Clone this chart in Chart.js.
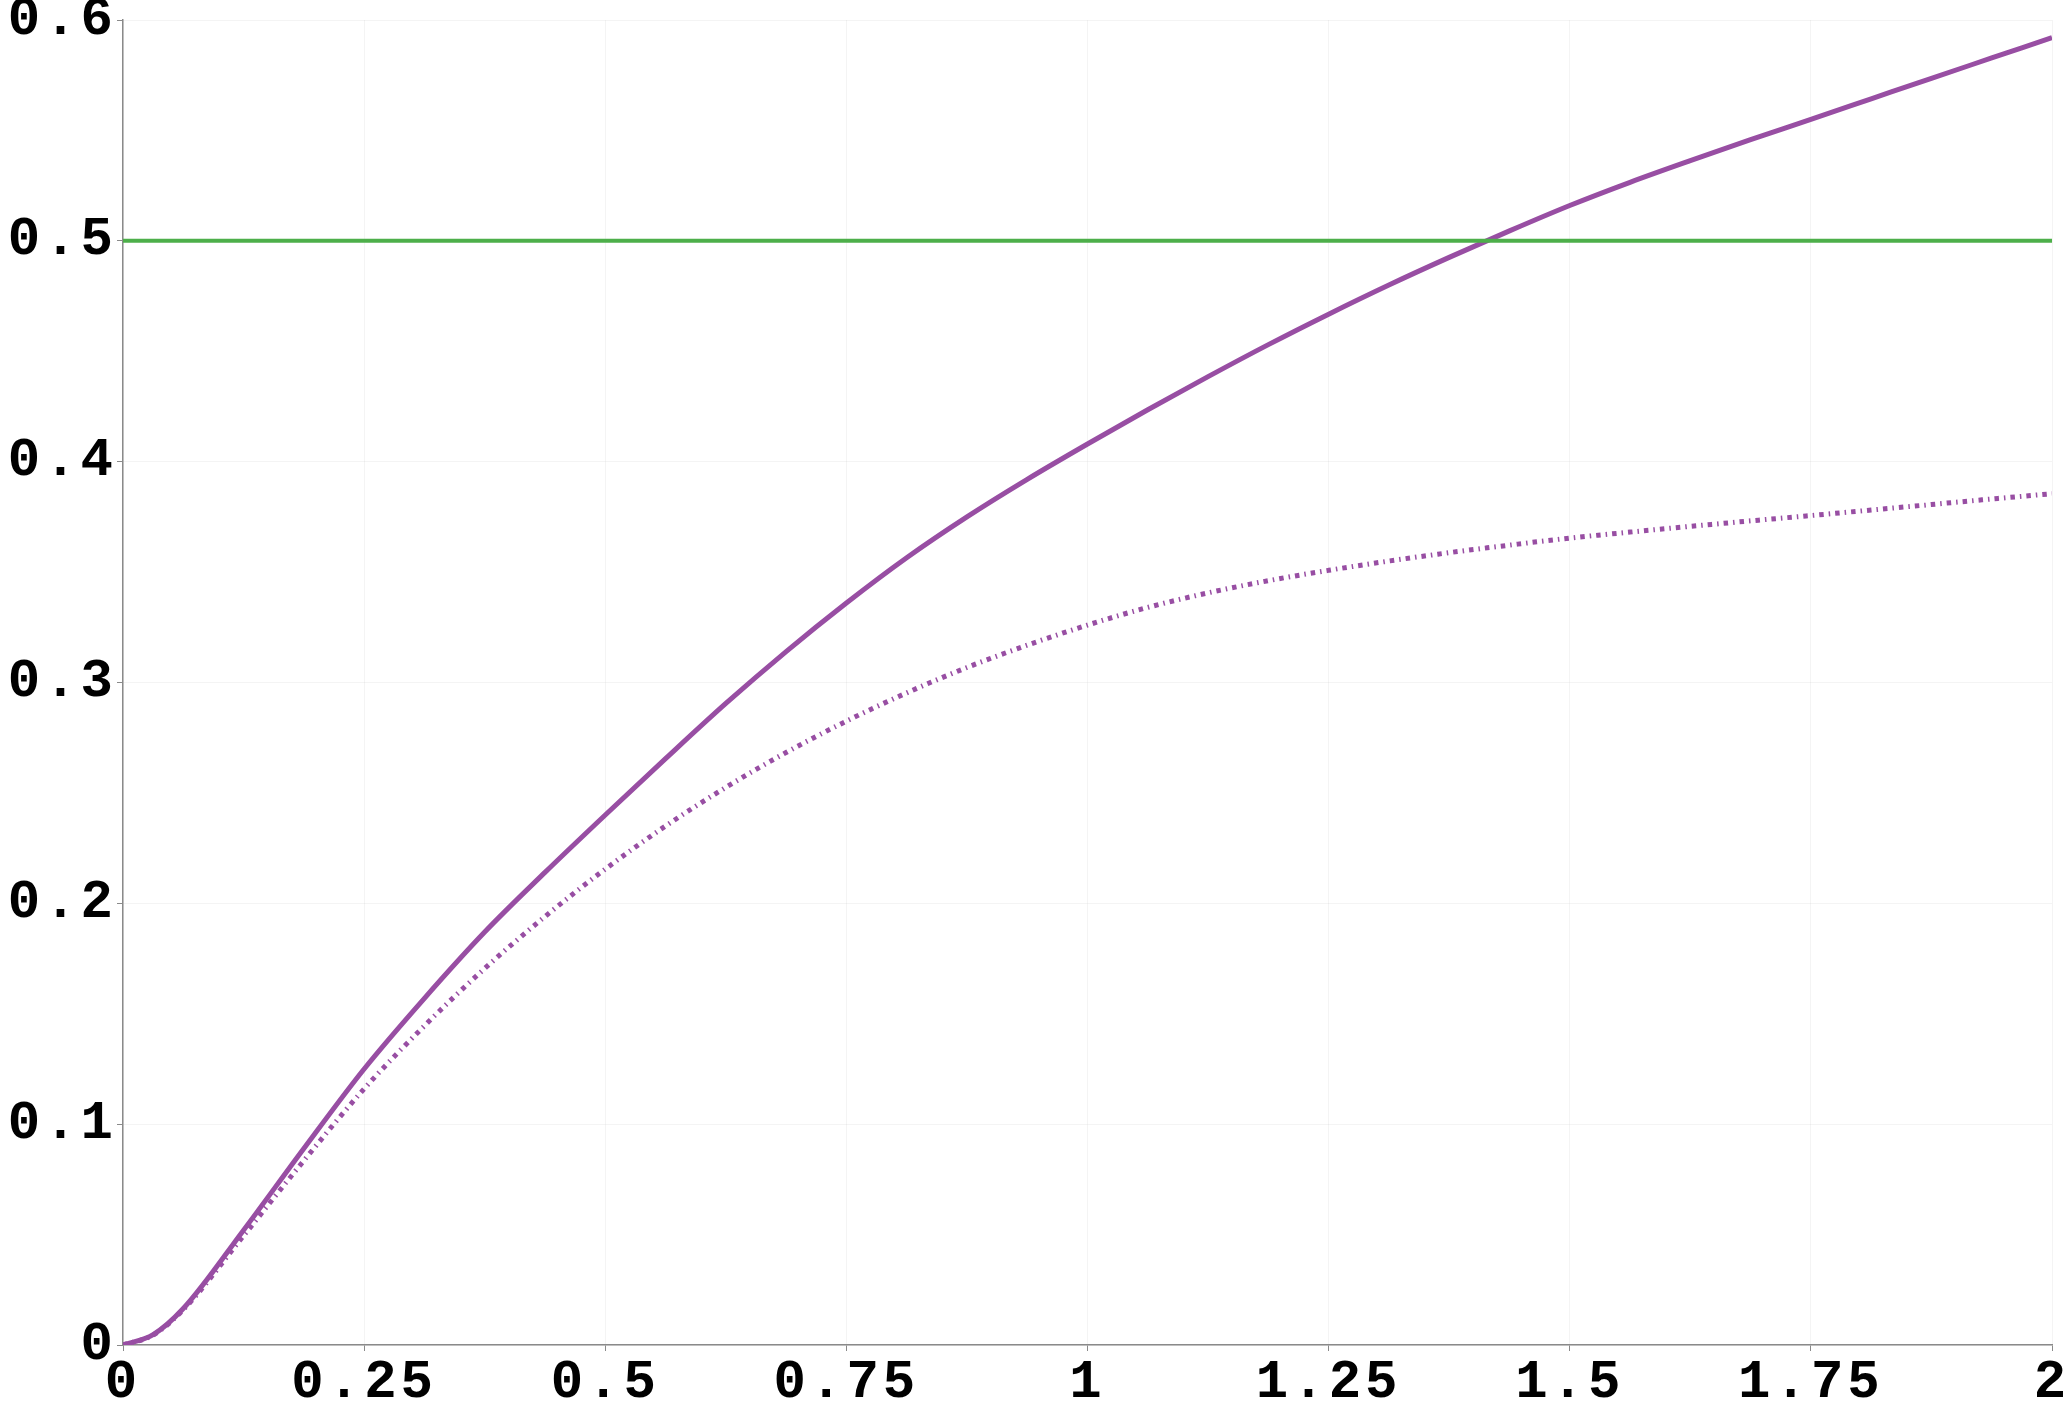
<!DOCTYPE html>
<html>
<head>
<meta charset="utf-8">
<script src="https://cdn.jsdelivr.net/npm/chart.js@4/dist/chart.umd.min.js"></script>
<style>
    html, body { margin: 0; padding: 0; background: #fff; }
    canvas { display: block; }
</style>
</head>
<body>
<canvas id="chart" width="2072" height="1422"></canvas>
<script>
// values
const xValues = [0, 0.03125, 0.0625, 0.125, 0.1875, 0.25, 0.3125, 0.375, 0.4375, 0.5,
    0.5625, 0.625, 0.6875, 0.75, 0.8125, 0.875, 0.9375, 1, 1.0625, 1.125, 1.1875, 1.25,
    1.3125, 1.375, 1.4375, 1.5, 1.5625, 1.625, 1.6875, 1.75, 1.8125, 1.875, 1.9375, 2];
const solidValues = [0, 0.0047, 0.0165, 0.052, 0.089, 0.125, 0.157, 0.187, 0.214, 0.240,
    0.2655, 0.2905, 0.314, 0.336, 0.3565, 0.375, 0.392, 0.408, 0.4235, 0.4385, 0.453, 0.4668,
    0.480, 0.4925, 0.5045, 0.516, 0.5265, 0.5363, 0.5458, 0.555, 0.5643, 0.5736, 0.5828, 0.592];
const dottedValues = [0, 0.0045, 0.016, 0.0495, 0.0835, 0.116, 0.1445, 0.1705, 0.194, 0.2155,
    0.235, 0.2525, 0.2683, 0.2825, 0.2953, 0.3068, 0.3169, 0.326, 0.334, 0.3406, 0.3461, 0.3508,
    0.355, 0.3588, 0.3622, 0.3654, 0.3681, 0.3707, 0.3732, 0.3756, 0.3781, 0.3806, 0.3831, 0.3855];
const thresholdX = [0, 2];
const thresholdValues = [0.5, 0.5];

const xTicks = [0, 0.25, 0.5, 0.75, 1, 1.25, 1.5, 1.75, 2];
const xTickLabels = ['0', '0.25', '0.5', '0.75', '1', '1.25', '1.5', '1.75', '2'];
const yTicks = [0, 0.1, 0.2, 0.3, 0.4, 0.5, 0.6];
const yTickLabels = ['0', '0.1', '0.2', '0.3', '0.4', '0.5', '0.6'];

const PURPLE = '#984ea3';
const GREEN = '#4daf4a';
const AXIS = '#8a8a8a';
const GRID = 'rgba(0,0,0,0.045)';
const SPACING = '4px';

function toPoints(xs, ys) {
    return xs.map((x, i) => ({ x: x, y: ys[i] }));
}

// canvas has no letter-spacing option in Chart.js, so set it on the context
const letterSpacingPlugin = {
    id: 'letterSpacing',
    beforeUpdate(chart) { chart.ctx.letterSpacing = SPACING; },
    beforeLayout(chart) { chart.ctx.letterSpacing = SPACING; },
    beforeDraw(chart) { chart.ctx.letterSpacing = SPACING; }
};

const tickFont = { family: "'Liberation Mono', monospace", weight: 'bold', size: 54 };

new Chart(document.getElementById('chart'), {
    type: 'line',
    data: {
        datasets: [
            {
                data: toPoints(thresholdX, thresholdValues),
                borderColor: GREEN,
                borderWidth: 4,
                pointRadius: 0,
                tension: 0
            },
            {
                data: toPoints(xValues, dottedValues),
                borderColor: PURPLE,
                borderWidth: 5,
                borderDash: [4.5, 5, 1.5, 5],
                pointRadius: 0,
                cubicInterpolationMode: 'monotone'
            },
            {
                data: toPoints(xValues, solidValues),
                borderColor: PURPLE,
                borderWidth: 5,
                pointRadius: 0,
                cubicInterpolationMode: 'monotone'
            }
        ]
    },
    options: {
        responsive: false,
        animation: false,
        layout: { padding: { top: 20, right: 20, left: 0, bottom: 0 } },
        plugins: {
            legend: { display: false },
            tooltip: { enabled: false }
        },
        scales: {
            x: {
                type: 'linear',
                min: 0,
                max: 2,
                afterBuildTicks: scale => { scale.ticks = xTicks.map(v => ({ value: v })); },
                afterFit: scale => {
                    scale.height = 77;
                    scale.paddingLeft = 0;
                    scale.paddingRight = 0;
                },
                ticks: {
                    color: '#000',
                    font: tickFont,
                    padding: 0,
                    maxRotation: 0,
                    autoSkip: false,
                    callback: (value, i) => xTickLabels[i]
                },
                grid: { color: GRID, tickColor: AXIS, tickLength: 6, lineWidth: 1 },
                border: { color: AXIS, width: 1.5 }
            },
            y: {
                type: 'linear',
                min: 0,
                max: 0.6,
                afterBuildTicks: scale => { scale.ticks = yTicks.map(v => ({ value: v })); },
                afterFit: scale => {
                    scale.width = 123;
                    scale.paddingTop = 0;
                    scale.paddingBottom = 0;
                },
                ticks: {
                    color: '#000',
                    font: tickFont,
                    padding: 0,
                    autoSkip: false,
                    callback: (value, i) => yTickLabels[i]
                },
                grid: { color: GRID, tickColor: AXIS, tickLength: 6, lineWidth: 1 },
                border: { color: AXIS, width: 1.5 }
            }
        }
    },
    plugins: [letterSpacingPlugin]
});
</script>
</body>
</html>
